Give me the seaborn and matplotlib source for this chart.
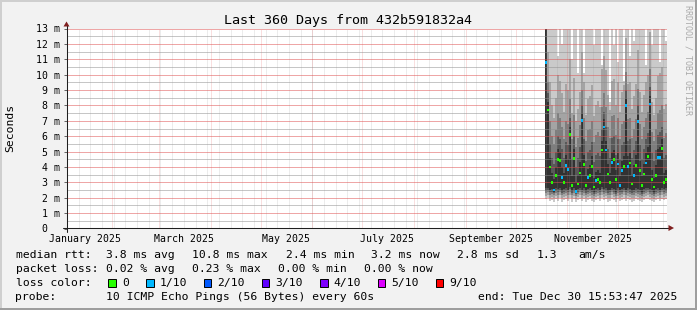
import numpy as np
import pandas as pd
import matplotlib
matplotlib.use("Agg")
import matplotlib.pyplot as plt
import matplotlib.dates as mdates
import matplotlib.transforms as mtransforms
from matplotlib.lines import Line2D
from matplotlib.patches import Rectangle, Polygon
import seaborn as sns

# ------------------------------------------------------------------ data
title = "Last 360 Days from 432b591832a4"
end_time = pd.Timestamp("2025-12-30 15:53:47")
range_days = 360
step = pd.Timedelta(hours=28.8)

median_ms = [10.8, 7.7, 4.0, 3.0, 2.5, 3.45, 4.5, 4.4, 3.3, 3.0,
             4.1, 3.85, 6.1, 2.8, 4.55, 2.4, 2.9, 3.6, 7.0, 4.15,
             2.8, 3.3, 3.45, 4.05, 2.7, 3.1, 3.2, 3.0, 5.1, 6.6,
             5.1, 3.55, 3.0, 4.3, 4.5, 3.2, 4.2, 2.8, 3.75, 4.05,
             8.0, 4.05, 4.25, 2.9, 3.45, 4.1, 6.95, 3.75, 2.8, 3.55,
             4.25, 4.7, 8.1, 3.2, 2.7, 3.45, 4.6, 4.6, 5.2, 3.0, 3.2]
loss_tenths = [1, 0, 0, 0, 1, 0, 0, 0, 1, 0,
               1, 1, 0, 0, 0, 1, 0, 0, 1, 0,
               0, 1, 0, 0, 0, 1, 0, 0, 0, 1,
               1, 0, 0, 1, 0, 0, 1, 1, 1, 0,
               1, 1, 0, 0, 1, 0, 1, 0, 0, 0,
               1, 0, 1, 0, 0, 0, 1, 1, 0, 0, 0]

# sorted ping round-trip times (ms) per time bin, fastest to slowest
ping1_ms = [1.9, 2.0, 1.8, 1.85, 1.7, 1.9, 1.8, 2.0, 1.75, 1.85,
            1.9, 1.8, 2.0, 1.75, 1.9, 1.7, 1.85, 1.95, 1.8, 1.9,
            1.75, 1.85, 1.9, 1.8, 1.7, 1.85, 1.9, 1.8, 2.0, 1.85,
            1.9, 1.75, 1.8, 1.95, 1.85, 1.7, 1.9, 1.8, 1.85, 1.95,
            1.8, 1.9, 1.85, 1.75, 1.8, 1.9, 1.85, 1.8, 1.7, 1.85,
            1.9, 1.95, 1.85, 1.8, 1.7, 1.85, 1.9, 1.8, 1.95, 1.85, 1.9]
ping2_ms = [2.1, 2.2, 2.0, 2.05, 1.95, 2.1, 2.0, 2.2, 1.95, 2.05,
            2.1, 2.0, 2.2, 1.95, 2.1, 1.9, 2.05, 2.15, 2.0, 2.1,
            1.95, 2.05, 2.1, 2.0, 1.9, 2.05, 2.1, 2.0, 2.2, 2.05,
            2.1, 1.95, 2.0, 2.15, 2.05, 1.9, 2.1, 2.0, 2.05, 2.15,
            2.0, 2.1, 2.05, 1.95, 2.0, 2.1, 2.05, 2.0, 1.9, 2.05,
            2.1, 2.15, 2.05, 2.0, 1.9, 2.05, 2.1, 2.0, 2.15, 2.05, 2.1]
ping3_ms = [2.3, 2.35, 2.2, 2.25, 2.15, 2.3, 2.2, 2.35, 2.15, 2.25,
            2.3, 2.2, 2.4, 2.15, 2.3, 2.1, 2.25, 2.35, 2.2, 2.3,
            2.15, 2.25, 2.3, 2.2, 2.1, 2.25, 2.3, 2.2, 2.4, 2.25,
            2.3, 2.15, 2.2, 2.35, 2.25, 2.1, 2.3, 2.2, 2.25, 2.35,
            2.2, 2.3, 2.25, 2.15, 2.2, 2.3, 2.25, 2.2, 2.1, 2.25,
            2.3, 2.35, 2.25, 2.2, 2.1, 2.25, 2.3, 2.2, 2.35, 2.25, 2.3]
ping4_ms = [2.45, 2.5, 2.35, 2.4, 2.3, 2.45, 2.4, 2.5, 2.3, 2.4,
            2.45, 2.35, 2.55, 2.3, 2.45, 2.25, 2.4, 2.5, 2.35, 2.45,
            2.3, 2.4, 2.45, 2.35, 2.25, 2.4, 2.45, 2.35, 2.55, 2.4,
            2.45, 2.3, 2.35, 2.5, 2.4, 2.25, 2.45, 2.35, 2.4, 2.5,
            2.35, 2.45, 2.4, 2.3, 2.35, 2.45, 2.4, 2.35, 2.25, 2.4,
            2.45, 2.5, 2.4, 2.35, 2.25, 2.4, 2.45, 2.35, 2.5, 2.4, 2.45]
ping5_ms = [2.6, 2.65, 2.5, 2.55, 2.4, 2.6, 2.55, 2.65, 2.45, 2.55,
            2.6, 2.5, 2.7, 2.45, 2.6, 2.35, 2.55, 2.65, 2.5, 2.6,
            2.45, 2.55, 2.6, 2.5, 2.4, 2.55, 2.6, 2.5, 2.7, 2.55,
            2.6, 2.45, 2.5, 2.65, 2.55, 2.4, 2.6, 2.5, 2.55, 2.65,
            2.5, 2.6, 2.55, 2.45, 2.5, 2.6, 2.55, 2.5, 2.4, 2.55,
            2.6, 2.65, 2.55, 2.5, 2.4, 2.55, 2.6, 2.5, 2.65, 2.55, 2.6]
ping6_ms = [14.0, 8.2, 4.6, 3.6, 3.2, 4.0, 5.2, 5.0, 4.0, 3.6,
            4.8, 4.5, 6.6, 3.4, 5.2, 3.0, 3.5, 4.3, 7.5, 4.8,
            3.4, 3.9, 4.1, 4.7, 3.3, 3.7, 3.8, 3.6, 5.7, 7.1,
            5.7, 4.2, 3.6, 5.0, 5.1, 3.8, 4.9, 3.4, 4.4, 4.7,
            8.5, 4.7, 4.9, 3.5, 4.1, 4.8, 7.4, 4.4, 3.4, 4.2,
            4.9, 5.3, 8.6, 3.8, 3.3, 4.1, 5.2, 5.3, 5.8, 3.6, 3.8]
ping7_ms = [14.5, 8.8, 5.5, 4.6, 4.2, 5.0, 6.0, 5.8, 5.2, 4.6,
            5.6, 5.4, 7.2, 4.5, 6.0, 4.0, 4.6, 5.3, 8.0, 5.8,
            4.4, 5.0, 5.1, 5.6, 4.3, 4.8, 4.9, 4.7, 6.5, 7.6,
            6.6, 5.2, 4.6, 5.9, 6.0, 4.8, 5.8, 4.5, 5.4, 5.6,
            9.0, 5.7, 5.8, 4.6, 5.1, 5.7, 8.0, 5.4, 4.5, 5.2,
            5.8, 6.2, 9.2, 4.9, 4.4, 5.1, 6.1, 6.3, 6.6, 4.6, 4.8]
ping8_ms = [15.0, 9.5, 7.0, 6.0, 5.5, 6.4, 7.5, 7.2, 6.6, 5.8,
            7.0, 6.8, 8.4, 5.8, 7.4, 5.3, 5.9, 6.7, 9.0, 7.2,
            5.7, 6.4, 6.5, 7.0, 5.6, 6.1, 6.3, 6.0, 7.9, 8.8,
            7.9, 6.6, 5.9, 7.3, 7.4, 6.1, 7.2, 5.8, 6.8, 7.0,
            10.2, 7.1, 7.2, 5.9, 6.5, 7.1, 9.1, 6.8, 5.8, 6.6,
            7.2, 7.6, 10.4, 6.3, 5.7, 6.5, 7.5, 7.7, 8.0, 5.9, 6.2]
ping9_ms = [16.0, 11.5, 9.5, 8.0, 7.2, 8.5, 10.0, 9.6, 8.8, 7.6,
            9.4, 9.0, 11.0, 7.5, 9.8, 7.0, 7.8, 8.9, 11.5, 9.5,
            7.4, 8.4, 8.6, 9.3, 7.3, 8.0, 8.3, 7.9, 10.4, 11.2,
            10.3, 8.7, 7.7, 9.6, 9.7, 8.0, 9.5, 7.6, 8.9, 9.3,
            12.4, 9.4, 9.5, 7.8, 8.6, 9.4, 11.6, 8.9, 7.6, 8.7,
            9.5, 10.0, 12.8, 8.2, 7.4, 8.5, 9.9, 10.1, 10.5, 7.8, 8.1]
ping10_ms = [30.0, 25.0, 18.0, 16.0, 15.0, 17.0, 11.2, 19.0, 12.0, 16.0,
             18.0, 17.0, 20.0, 11.0, 18.0, 15.0, 10.1, 16.0, 22.0, 10.1,
             15.0, 17.0, 16.0, 18.0, 11.9, 15.0, 16.0, 14.0, 10.6, 21.0,
             19.0, 16.0, 8.2, 18.0, 11.9, 15.0, 10.8, 14.0, 16.0, 9.6,
             24.0, 17.0, 11.2, 15.0, 12.2, 17.0, 22.0, 16.0, 14.0, 15.0,
             10.6, 18.0, 25.0, 11.9, 14.0, 16.0, 18.0, 10.8, 19.0, 15.0, 12.2]

y_ticks = list(range(0, 14))
y_tick_labels = ["0  ", "1 m", "2 m", "3 m", "4 m", "5 m", "6 m", "7 m",
                 "8 m", "9 m", "10 m", "11 m", "12 m", "13 m"]
month_labels = ["January 2025", "March 2025", "May 2025", "July 2025",
                "September 2025", "November 2025"]
month_label_dates = ["2025-01-16", "2025-03-16", "2025-05-16", "2025-07-16",
                     "2025-09-16", "2025-11-16"]
loss_values = [0, 1, 2, 3, 4, 5, 9]
loss_names = ["0", "1/10", "2/10", "3/10", "4/10", "5/10", "9/10"]
loss_colors = ["#26ff00", "#00b8ff", "#0059ff", "#5e00ff", "#7e00ff", "#dd00ff", "#ff0000"]
smoke_colors = ["#cacaca", "#a4a4a4", "#7e7e7e", "#585858", "#323232"]

legend_line1 = [("median rtt:", 15.5), ("3.8 ms avg", 106), ("10.8 ms max", 192.5),
                ("2.4 ms min", 285.5), ("3.2 ms now", 371), ("2.8 ms sd", 457),
                ("1.3", 536.5), ("am/s", 578.5)]
legend_line2 = [("packet loss:", 15.5), ("0.02 % avg", 106), ("0.23 % max", 192.5),
                ("0.00 % min", 278.5), ("0.00 % now", 364.5)]
legend_line4 = [("probe:", 15.5), ("10 ICMP Echo Pings (56 Bytes) every 60s", 106),
                ("end: Tue Dec 30 15:53:47 2025", 477.5)]
swatch_x = [108, 146, 203.5, 261.5, 320, 377.5, 435.5]
swatch_label_x = [122.5, 160, 217.5, 275.5, 333.5, 391.5, 449.5]

# ------------------------------------------------------------------ style
sns.set_theme(style="white")
plt.rcParams["font.family"] = ["DejaVu Sans Mono", "DejaVu Sans"]
plt.rcParams["text.color"] = "black"
plt.rcParams["lines.scale_dashes"] = True

W, H = 697, 310
BG = "#f2f2f2"
fig = plt.figure(figsize=(W / 100, H / 100), dpi=100, facecolor=BG)
px = mtransforms.Affine2D().scale(1 / W, -1 / H).translate(0, 1) + fig.transFigure


def fx(x):
    return x / W


def fy(y):
    return 1 - y / H


ax = fig.add_axes([fx(66.5), fy(228.5), 600.5 / W, 200 / H])
ax.set_facecolor("white")
for s in ax.spines.values():
    s.set_visible(False)

# ------------------------------------------------------------------ smoke
N = len(median_ms)
first_bin = end_time - step * N
edges = [first_bin + step * k for k in range(N + 1)]
xe = mdates.date2num([e.to_pydatetime() for e in edges])
xc = (xe[:-1] + xe[1:]) / 2

pings = [ping1_ms, ping2_ms, ping3_ms, ping4_ms, ping5_ms,
         ping6_ms, ping7_ms, ping8_ms, ping9_ms, ping10_ms]
for k in range(5):
    lo = np.append(pings[k], pings[k][-1])
    hi = np.append(pings[9 - k], pings[9 - k][-1])
    ax.fill_between(xe, lo, hi, step="post", color=smoke_colors[k],
                    linewidth=0, zorder=1, antialiased=False)

# ------------------------------------------------------------------ median
name_of = dict(zip(loss_values, loss_names))
df = pd.DataFrame({"t": xc, "median": median_ms,
                   "loss": [name_of[v] for v in loss_tenths]})
sns.scatterplot(data=df, x="t", y="median", hue="loss",
                palette=dict(zip(loss_names, loss_colors)), marker="s", s=3.6,
                linewidth=0, legend=False, ax=ax, zorder=4)
ax.set_xlabel("")
ax.set_ylabel("")

# ------------------------------------------------------------------ axes / grid
start_time = end_time - pd.Timedelta(days=range_days)
ax.set_xlim(mdates.date2num(start_time.to_pydatetime()),
            mdates.date2num(end_time.to_pydatetime()))
ax.set_ylim(0, 13)
ax.set_axisbelow(False)

mgrid = (0.87, 0.31, 0.31, 0.36)
mgrid_c = (0.56, 0.56, 0.56, 0.33)
dots = (0, (1, 1))

ax.set_yticks(y_ticks)
ax.set_yticklabels(y_tick_labels)
ax.set_yticks([v + 0.5 for v in y_ticks[:-1]], minor=True)
ax.yaxis.grid(True, which="major", color=mgrid, linestyle=dots, linewidth=0.72)
ax.yaxis.grid(True, which="minor", color=mgrid_c, linestyle=dots, linewidth=0.72)

label_nums = mdates.date2num([pd.Timestamp(d).to_pydatetime() for d in month_label_dates])
ax.set_xticks(label_nums)
ax.set_xticklabels(month_labels)
ax.xaxis.grid(False)

x0, x1 = ax.get_xlim()
month_starts = pd.date_range("2025-01-01", "2026-01-01", freq="MS")
week_starts = pd.date_range("2025-01-05", "2026-01-04", freq="W-SUN")
for d in mdates.date2num(week_starts.to_pydatetime()):
    if x0 < d < x1:
        ax.axvline(d, color=mgrid_c, linestyle=dots, linewidth=0.72, zorder=2.4,
                   snap=True)
for d in mdates.date2num(month_starts.to_pydatetime()):
    if x0 < d < x1:
        ax.axvline(d, color=mgrid, linestyle=dots, linewidth=0.72, zorder=2.5,
                   snap=True)

ax.tick_params(axis="y", which="major", length=2.2, width=0.72, color="#666666",
               pad=2.4, labelsize=7.1, labelcolor="black", left=True)
ax.tick_params(axis="y", which="minor", length=0)
ax.tick_params(axis="x", which="major", length=0, pad=4.3, labelsize=7.1,
               labelcolor="black", bottom=True)

# axis lines with arrows
axis_col = (0.12, 0.12, 0.12)
arrow_col = (0.5, 0.12, 0.12)
fig.add_artist(Line2D([62.5, 669], [228, 228], transform=px, color=axis_col, lw=0.75, zorder=5))
fig.add_artist(Line2D([66.5, 66.5], [232, 25], transform=px, color=axis_col, lw=0.75, zorder=5))
fig.add_artist(Polygon([(668.5, 225), (674, 228), (668.5, 231)], closed=True,
                       transform=px, color=arrow_col, lw=0, zorder=6))
fig.add_artist(Polygon([(63.5, 26.5), (66.5, 21.5), (69.5, 26.5)], closed=True,
                       transform=px, color=arrow_col, lw=0, zorder=6))

# ------------------------------------------------------------------ texts
fig.text(fx(348.5), fy(24), title, ha="center", va="baseline", fontsize=9.6)
fig.text(fx(10.5), fy(128), "Seconds", rotation=90, ha="center", va="center", fontsize=8.2)
fig.text(fx(688), fy(5), "RRDTOOL / TOBI OETIKER", rotation=270, ha="center",
         va="top", fontsize=6.0, color="#aaaaaa")

LEG = 8.2
for txt, x in legend_line1:
    fig.text(fx(x), fy(258), txt, ha="left", va="baseline", fontsize=LEG)
for txt, x in legend_line2:
    fig.text(fx(x), fy(272), txt, ha="left", va="baseline", fontsize=LEG)
fig.text(fx(15.5), fy(286), "loss color:", ha="left", va="baseline", fontsize=LEG)
for sx, lx, name, col in zip(swatch_x, swatch_label_x, loss_names, loss_colors):
    fig.add_artist(Rectangle((sx, 286.5), 7.5, -7.5, transform=px, facecolor=col,
                             edgecolor="black", lw=0.7))
    fig.text(fx(lx), fy(286), name, ha="left", va="baseline", fontsize=LEG)
for txt, x in legend_line4:
    fig.text(fx(x), fy(300), txt, ha="left", va="baseline", fontsize=LEG)

# frame shading
fig.add_artist(Rectangle((0, 0), W, 2, transform=px, facecolor="#cfcfcf", lw=0))
fig.add_artist(Rectangle((0, 0), 2, H, transform=px, facecolor="#cfcfcf", lw=0))
fig.add_artist(Rectangle((0, H - 2), W, 2, transform=px, facecolor="#9e9e9e", lw=0))
fig.add_artist(Rectangle((W - 2, 0), 2, H, transform=px, facecolor="#9e9e9e", lw=0))

fig.savefig("out.png", dpi=100, facecolor=BG)
